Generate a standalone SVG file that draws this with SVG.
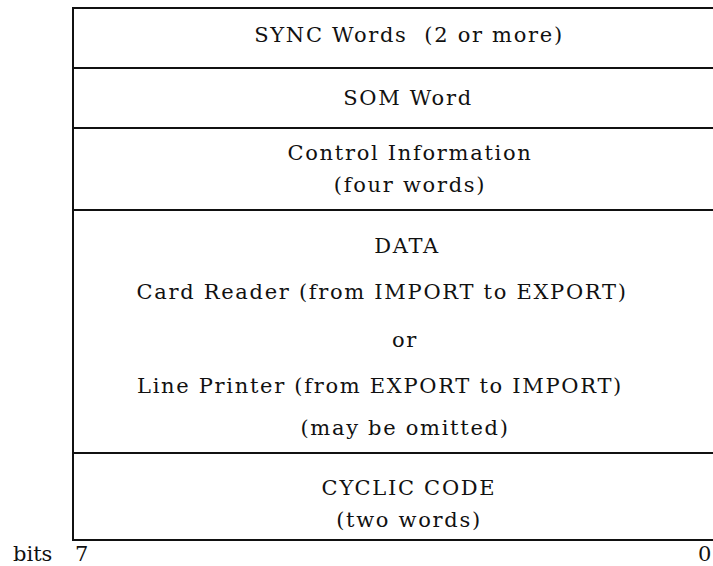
<svg xmlns="http://www.w3.org/2000/svg" width="713" height="566" viewBox="0 0 713 566">
<style>
.ln{stroke:#111;stroke-width:2;fill:none}
.t{font-family:"DejaVu Serif","Liberation Serif",serif;font-size:21px;fill:#111;text-anchor:middle;letter-spacing:1.7px}
.b{font-family:"DejaVu Serif","Liberation Serif",serif;font-size:21px;fill:#111}
</style>
<rect width="713" height="566" fill="#fff"/>
<g id="frame">
<line class="ln" x1="73" y1="8" x2="73" y2="540"/>
<line class="ln" x1="72" y1="8" x2="713" y2="8"/>
<line class="ln" x1="72" y1="540" x2="713" y2="540"/>
</g>
<g id="sync">
<text class="t" x="409" y="42" xml:space="preserve">SYNC Words  (2 or more)</text>
<line class="ln" x1="72" y1="68" x2="713" y2="68"/>
</g>
<g id="som">
<text class="t" x="408" y="105">SOM Word</text>
<line class="ln" x1="72" y1="128" x2="713" y2="128"/>
</g>
<g id="control">
<text class="t" x="410" y="160">Control Information</text>
<text class="t" x="410" y="192">(four words)</text>
<line class="ln" x1="72" y1="210" x2="713" y2="210"/>
</g>
<g id="data">
<text class="t" x="407" y="253">DATA</text>
<text class="t" x="382" y="299">Card Reader (from IMPORT to EXPORT)</text>
<text class="t" x="405" y="347">or</text>
<text class="t" x="380" y="393">Line Printer (from EXPORT to IMPORT)</text>
<text class="t" x="405" y="435">(may be omitted)</text>
<line class="ln" x1="72" y1="453" x2="713" y2="453"/>
</g>
<g id="cyclic">
<text class="t" x="409" y="495">CYCLIC CODE</text>
<text class="t" x="409" y="527">(two words)</text>
</g>
<g id="bits">
<text class="b" x="13" y="561">bits</text>
<text class="b" x="75" y="561">7</text>
<text class="b" x="698" y="561">0</text>
</g>
</svg>
